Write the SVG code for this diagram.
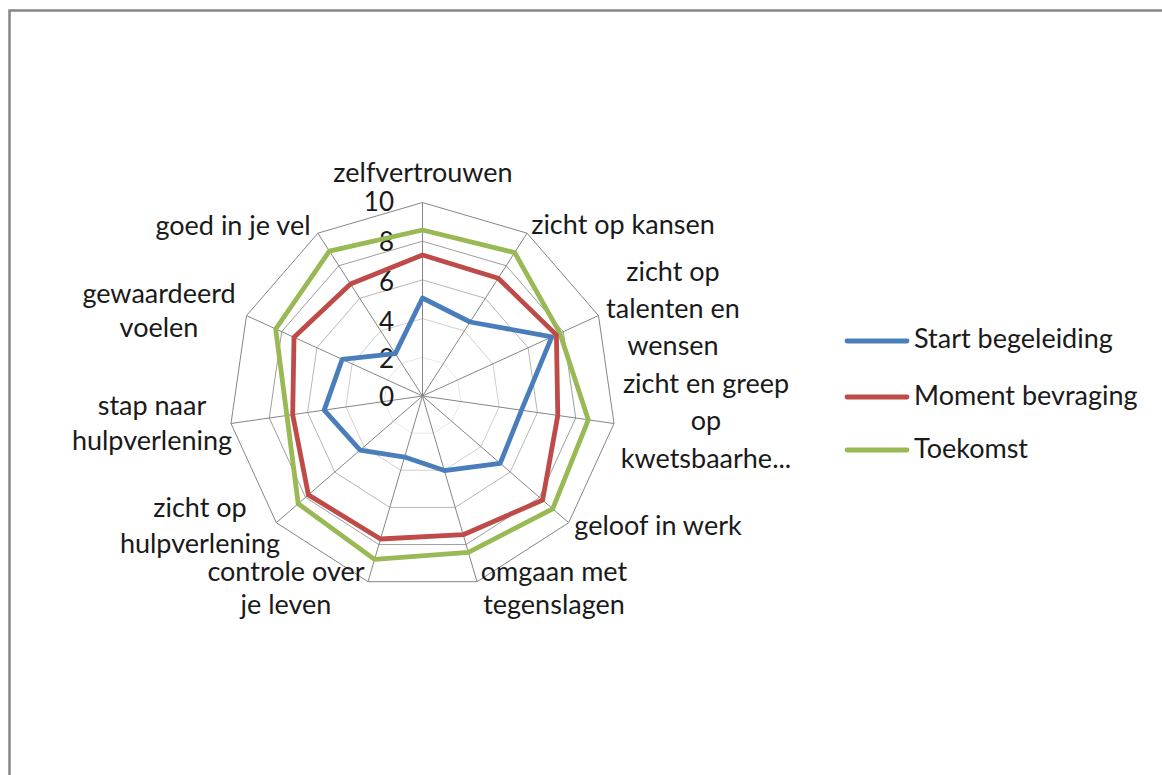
<svg xmlns="http://www.w3.org/2000/svg" xmlns:xlink="http://www.w3.org/1999/xlink" width="1162" height="775" viewBox="0 0 1162 775">
  <style>
    .frame { fill: none; stroke: #878787; stroke-width: 2.5; }
    .grid { fill: none; stroke: #858585; stroke-width: 1; vector-effect: non-scaling-stroke; }
    .series { fill: none; stroke-width: 4.8; stroke-linejoin: round; stroke-linecap: round; }
    .s1 { stroke: #4a7ebb; }
    .s2 { stroke: #be4b48; }
    .s3 { stroke: #98b954; }
    .lbl { font-family: Lato, "Open Sans", sans-serif; font-size: 27px; fill: #1a1a1a; }
    .mid { text-anchor: middle; }
    .tick { font-family: Lato, "Open Sans", sans-serif; font-size: 26px; fill: #1a1a1a; text-anchor: end; }
  </style>
  <defs>
    <!-- outer ring of the radar grid (value 10), centred on the origin -->
    <polygon id="ring" points="0,-193.5 104.6,-162.8 176,-80.4 191.5,27.5 146.2,126.7 54.5,185.7 -54.5,185.7 -146.2,126.7 -191.5,27.5 -176,-80.4 -104.6,-162.8"/>
  </defs>

  <rect width="1162" height="775" fill="#ffffff"/>
  <path class="frame" d="M9.5,775 V10.5 H1162"/>

  <!-- radar grid -->
  <g id="grid" transform="translate(422.5 396)">
    <use xlink:href="#ring" class="grid" transform="scale(0.2)"/>
    <use xlink:href="#ring" class="grid" transform="scale(0.4)"/>
    <use xlink:href="#ring" class="grid" transform="scale(0.6)"/>
    <use xlink:href="#ring" class="grid" transform="scale(0.8)"/>
    <use xlink:href="#ring" class="grid"/>
    <path class="grid" d="M0,0 L0,-193.5 M0,0 L104.6,-162.8 M0,0 L176,-80.4 M0,0 L191.5,27.5 M0,0 L146.2,126.7 M0,0 L54.5,185.7 M0,0 L-54.5,185.7 M0,0 L-146.2,126.7 M0,0 L-191.5,27.5 M0,0 L-176,-80.4 M0,0 L-104.6,-162.8"/>
  </g>

  <!-- value axis labels -->
  <g id="ticks">
    <text class="tick" x="394" y="211">10</text>
    <text class="tick" x="394" y="251">8</text>
    <text class="tick" x="394" y="291">6</text>
    <text class="tick" x="394" y="331">4</text>
    <text class="tick" x="394" y="368">2</text>
    <text class="tick" x="394" y="406">0</text>
  </g>

  <!-- data series -->
  <g id="series" transform="translate(422.5 396)">
    <polygon id="toekomst" class="series s3" points="0,-166 92.2,-143.4 137.4,-62.8 165.8,23.8 130.2,112.8 45.9,156.3 -48,163.4 -124.3,107.7 -135.6,19.5 -146.8,-67 -93.1,-144.9"/>
    <polygon id="moment-bevraging" class="series s2" points="0,-141 75.7,-117.8 133.9,-61.1 135.3,19.5 120.1,104.1 40.7,138.7 -42,143 -114.1,98.9 -129.8,18.7 -128.5,-58.7 -72,-112"/>
    <polygon id="start-begeleiding" class="series s1" points="0,-98 47.6,-74 129.3,-59.1 99,14.2 77.7,67.3 21.9,74.6 -17.9,61.1 -62.4,54.1 -98.3,14.1 -80.3,-36.7 -27.2,-42.4"/>
  </g>

  <!-- category labels -->
  <g id="labels">
    <g id="lbl-zelfvertrouwen"><text class="lbl mid" x="423" y="182">zelfvertrouwen</text></g>
    <g id="lbl-kansen"><text class="lbl mid" x="623" y="234">zicht op kansen</text></g>
    <g id="lbl-talenten"><text class="lbl mid" x="673"><tspan x="673" y="281">zicht op</tspan><tspan x="673" y="318">talenten en</tspan><tspan x="673" y="355">wensen</tspan></text></g>
    <g id="lbl-kwetsbaarheid"><text class="lbl mid" x="706"><tspan x="706" y="393">zicht en greep</tspan><tspan x="706" y="430">op</tspan><tspan x="706" y="468">kwetsbaarhe...</tspan></text></g>
    <g id="lbl-werk"><text class="lbl mid" x="658" y="535">geloof in werk</text></g>
    <g id="lbl-tegenslagen"><text class="lbl mid" x="554"><tspan x="554" y="581">omgaan met</tspan><tspan x="554" y="614">tegenslagen</tspan></text></g>
    <g id="lbl-controle"><text class="lbl mid" x="286"><tspan x="286" y="581">controle over</tspan><tspan x="286" y="614">je leven</tspan></text></g>
    <g id="lbl-zicht-hulp"><text class="lbl mid" x="200"><tspan x="200" y="517">zicht op</tspan><tspan x="200" y="553">hulpverlening</tspan></text></g>
    <g id="lbl-stap-hulp"><text class="lbl mid" x="152"><tspan x="152" y="415">stap naar</tspan><tspan x="152" y="450">hulpverlening</tspan></text></g>
    <g id="lbl-gewaardeerd"><text class="lbl mid" x="159"><tspan x="159" y="303">gewaardeerd</tspan><tspan x="159" y="337">voelen</tspan></text></g>
    <g id="lbl-goed"><text class="lbl mid" x="233" y="235">goed in je vel</text></g>
  </g>

  <!-- legend -->
  <g id="legend">
    <g id="leg-start">
      <line class="series s1" x1="847" y1="341" x2="907" y2="341"/>
      <text class="lbl" x="914" y="348">Start begeleiding</text>
    </g>
    <g id="leg-moment">
      <line class="series s2" x1="847" y1="397" x2="907" y2="397"/>
      <text class="lbl" x="914" y="405">Moment bevraging</text>
    </g>
    <g id="leg-toekomst">
      <line class="series s3" x1="847" y1="450" x2="907" y2="450"/>
      <text class="lbl" x="914" y="458">Toekomst</text>
    </g>
  </g>
</svg>
